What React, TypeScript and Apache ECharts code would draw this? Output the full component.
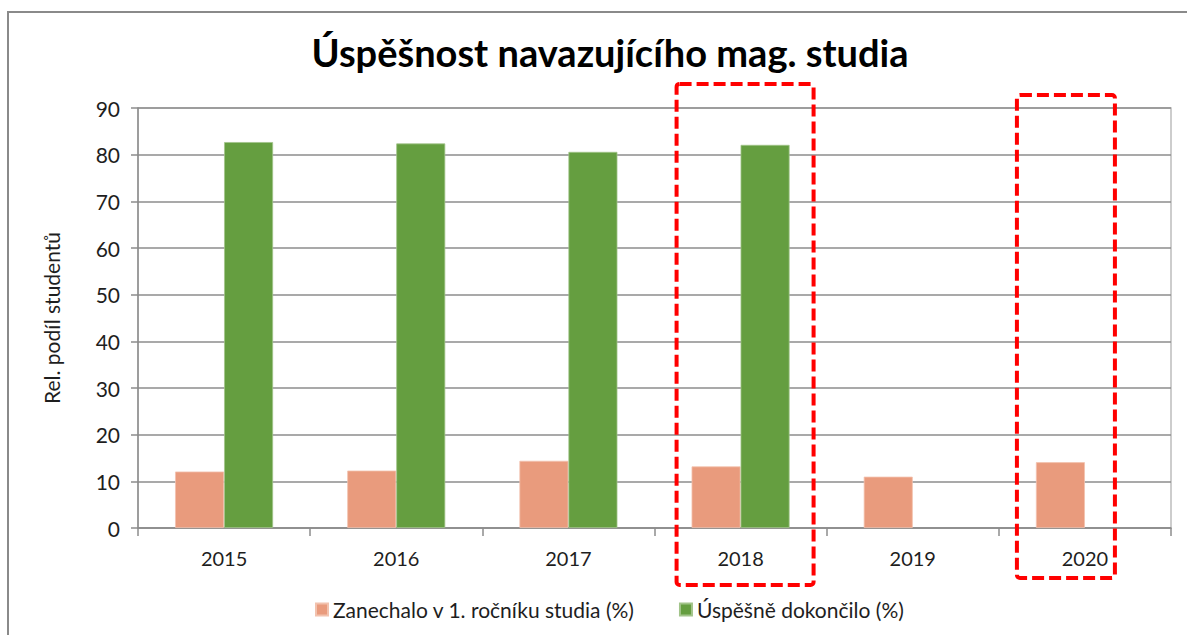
import React, { useEffect, useRef } from "react";
import * as echarts from "echarts";

const categories = ["2015", "2016", "2017", "2018", "2019", "2020"];
const dropoutValues = [12.1, 12.3, 14.4, 13.2, 11.0, 14.1];
const completedValues: (number | null)[] = [82.7, 82.4, 80.6, 82.1, null, null];
const seriesNames = ["Zanechalo v 1. ročníku studia (%)", "Úspěšně dokončilo (%)"];
const yMin = 0;
const yMax = 90;
const yInterval = 10;
const highlighted = ["2018", "2020"];

const FONT = "Lato";
const TEXT = "#1e1e1e";

export default function App() {
  const ref = useRef<HTMLDivElement>(null);
  useEffect(() => {
    if (!ref.current) return;
    const chart = echarts.init(ref.current, null, { renderer: "svg" });
    chart.setOption({
      animation: false,
      backgroundColor: "#ffffff",
      title: {
        text: "Úspěšnost navazujícího mag. studia",
        left: 605,
        textAlign: "center",
        top: 28,
        textStyle: { fontFamily: FONT, fontWeight: "bold", fontSize: 38, color: "#000" },
      },
      legend: {
        data: seriesNames,
        left: 310,
        top: 594,
        itemWidth: 12,
        itemHeight: 12,
        itemGap: 44,
        icon: "rect",
        textStyle: { fontFamily: FONT, fontSize: 21, color: TEXT },
      },
      grid: {
        left: 138,
        right: 16,
        top: 108,
        bottom: 107,
        show: true,
        borderColor: "#bdbdbd",
        borderWidth: 1.5,
      },
      xAxis: {
        type: "category",
        data: categories,
        axisLine: { lineStyle: { color: "#8c8c8c", width: 1.5 } },
        axisTick: { show: true, length: 8, lineStyle: { color: "#8c8c8c", width: 1.5 } },
        axisLabel: { fontFamily: FONT, fontSize: 20, color: TEXT, margin: 20 },
      },
      yAxis: {
        type: "value",
        min: yMin,
        max: yMax,
        interval: yInterval,
        name: "Rel. podíl studentů",
        nameLocation: "middle",
        nameGap: 76,
        nameTextStyle: { fontFamily: FONT, fontSize: 21, color: TEXT },
        axisLine: { show: true, lineStyle: { color: "#8c8c8c", width: 1.5 } },
        axisTick: { show: true, length: 7, lineStyle: { color: "#8c8c8c", width: 1.5 } },
        axisLabel: { fontFamily: FONT, fontSize: 21, color: TEXT, margin: 18 },
        splitLine: { lineStyle: { color: "#8c8c8c", width: 1.5 } },
      },
      series: [
        {
          name: seriesNames[0],
          type: "bar",
          data: dropoutValues,
          barWidth: 49,
          barGap: "0%",
          itemStyle: { color: "#e99b7d", borderColor: "#f2c2ae", borderWidth: 0.8 },
        },
        {
          name: seriesNames[1],
          type: "bar",
          data: completedValues,
          barWidth: 49,
          barGap: "0%",
          itemStyle: { color: "#659e40", borderColor: "#a2c48a", borderWidth: 0.8 },
        },
      ],
    });

    const yTop = chart.convertToPixel({ yAxisIndex: 0 }, yMax) as number;
    const yZero = chart.convertToPixel({ yAxisIndex: 0 }, yMin) as number;
    const c1 = chart.convertToPixel({ xAxisIndex: 0 }, highlighted[0]) as number;
    const c2 = chart.convertToPixel({ xAxisIndex: 0 }, highlighted[1]) as number;
    const dashStyle = { fill: "none", stroke: "#ff0000", lineWidth: 4, lineDash: [12, 5] };

    chart.setOption({
      graphic: [
        {
          type: "rect",
          shape: { x: 8, y: 12, width: 1300, height: 800 },
          style: { fill: "none", stroke: "#8a8a8a", lineWidth: 2 },
          silent: true,
        },
        {
          type: "rect",
          shape: { x: c1 - 64, y: yTop - 24, width: 137, height: yZero - yTop + 81, r: 3 },
          style: dashStyle,
          silent: true,
          z: 100,
        },
        {
          type: "rect",
          shape: { x: c2 - 68, y: yTop - 13, width: 98, height: yZero - yTop + 63, r: 3 },
          style: dashStyle,
          silent: true,
          z: 100,
        },
      ],
    });

    return () => chart.dispose();
  }, []);

  return (
    <div
      ref={ref}
      style={{ position: "fixed", left: 0, top: 0, width: 1187, height: 635, background: "#fff" }}
    />
  );
}
